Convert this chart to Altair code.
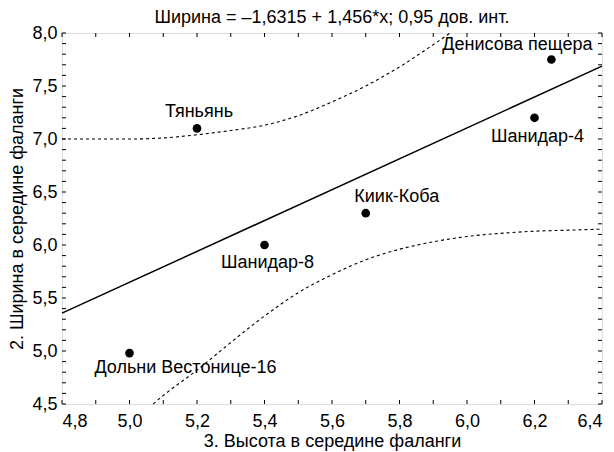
import altair as alt
import pandas as pd

# Data points
names = ["Денисова пещера", "Шанидар-4", "Киик-Коба", "Шанидар-8", "Тяньянь", "Дольни Вестонице-16"]
height_x = [6.25, 6.20, 5.70, 5.40, 5.20, 5.00]
width_y = [7.75, 7.20, 6.30, 6.00, 7.10, 4.98]

# Regression line endpoints (y = -1.6315 + 1.456 x)
line_x = [4.8, 6.4]
line_y = [5.357, 7.687]

# Confidence band
upper_x = [4.8, 4.9, 5.0, 5.1, 5.2, 5.3, 5.4, 5.5, 5.6, 5.7, 5.8, 5.9, 5.95]
upper_y = [7.00, 7.00, 7.00, 7.01, 7.04, 7.08, 7.13, 7.22, 7.35, 7.50, 7.68, 7.89, 8.00]
lower_x = [5.07, 5.1, 5.2, 5.3, 5.4, 5.5, 5.6, 5.7, 5.8, 5.9, 6.0, 6.1, 6.2, 6.3, 6.4]
lower_y = [4.50, 4.58, 4.82, 5.08, 5.33, 5.55, 5.72, 5.86, 5.96, 6.03, 6.08, 6.11, 6.13, 6.14, 6.15]

x_ticks = [4.8, 5.0, 5.2, 5.4, 5.6, 5.8, 6.0, 6.2, 6.4]
y_ticks = [4.5, 5.0, 5.5, 6.0, 6.5, 7.0, 7.5, 8.0]
x_minor = [round(4.8 + 0.1 * i, 2) for i in range(17)]
y_minor = [round(4.5 + 0.1 * i, 2) for i in range(36)]

W, H = 540, 371
FONT = "Liberation Sans"
FS = 18

xs = alt.Scale(domain=[4.8, 6.4], nice=False, zero=False)
ys = alt.Scale(domain=[4.5, 8.0], nice=False, zero=False)
lab = "replace(format(datum.value, '.1f'), '.', ',')"

pts = pd.DataFrame({"name": names, "x": height_x, "y": width_y})
reg = pd.DataFrame({"x": line_x, "y": line_y})
up = pd.DataFrame({"x": upper_x, "y": upper_y})
lo = pd.DataFrame({"x": lower_x, "y": lower_y})

X = alt.X("x:Q", scale=xs, axis=alt.Axis(values=x_ticks, labelExpr=lab, title="3. Высота в середине фаланги",
                                          grid=False, domain=False, ticks=False, labelPadding=8,
                                          titlePadding=2, labelFontSize=FS, titleFontSize=FS,
                                          labelFont=FONT, titleFont=FONT, titleFontWeight="normal",
                                          labelColor="black", titleColor="black"))
Y = alt.Y("y:Q", scale=ys, axis=alt.Axis(values=y_ticks, labelExpr=lab, title="2. Ширина в середине фаланги",
                                          grid=False, domain=False, ticks=False, labelPadding=5,
                                          titlePadding=5, labelFontSize=FS, titleFontSize=FS,
                                          labelFont=FONT, titleFont=FONT, titleFontWeight="normal",
                                          labelColor="black", titleColor="black"))

base_line = alt.Chart(reg).mark_line(color="black", strokeWidth=1.5).encode(x=X, y=Y)
band_up = alt.Chart(up).mark_line(color="black", strokeWidth=1.1, strokeDash=[3, 3], interpolate="monotone").encode(
    x=alt.X("x:Q", scale=xs), y=alt.Y("y:Q", scale=ys))
band_lo = alt.Chart(lo).mark_line(color="black", strokeWidth=1.1, strokeDash=[3, 3], interpolate="monotone").encode(
    x=alt.X("x:Q", scale=xs), y=alt.Y("y:Q", scale=ys))
dots = alt.Chart(pts).mark_circle(color="black", opacity=1, size=75).encode(
    x=alt.X("x:Q", scale=xs), y=alt.Y("y:Q", scale=ys))

offsets = {
    "Денисова пещера": (-34, -15),
    "Шанидар-4": (3, 19),
    "Киик-Коба": (31, -16),
    "Шанидар-8": (3, 18),
    "Тяньянь": (2, -16),
    "Дольни Вестонице-16": (56, 15),
}
texts = []
for n in names:
    dx, dy = offsets[n]
    texts.append(
        alt.Chart(pts).transform_filter(alt.datum.name == n)
        .mark_text(font=FONT, fontSize=FS, color="black", dx=dx, dy=dy, align="center", baseline="middle")
        .encode(x=alt.X("x:Q", scale=xs), y=alt.Y("y:Q", scale=ys), text="name:N")
    )

xt = pd.DataFrame({"x": x_minor})
yt = pd.DataFrame({"y": y_minor})
tick_b = alt.Chart(xt).mark_rule(color="black", strokeWidth=1).encode(
    x=alt.X("x:Q", scale=xs), y=alt.value(H), y2=alt.value(H - 4))
tick_t = alt.Chart(xt).mark_rule(color="black", strokeWidth=1).encode(
    x=alt.X("x:Q", scale=xs), y=alt.value(0), y2=alt.value(4))
tick_l = alt.Chart(yt).mark_rule(color="black", strokeWidth=1).encode(
    y=alt.Y("y:Q", scale=ys), x=alt.value(0), x2=alt.value(4))
tick_r = alt.Chart(yt).mark_rule(color="black", strokeWidth=1).encode(
    y=alt.Y("y:Q", scale=ys), x=alt.value(W), x2=alt.value(W - 4))

chart = alt.layer(base_line, band_up, band_lo, tick_b, tick_t, tick_l, tick_r, dots, *texts).properties(
    width=W, height=H,
    title=alt.Title("Ширина = –1,6315 + 1,456*x; 0,95 дов. инт.", font=FONT, fontSize=FS,
                    fontWeight="normal", color="black", offset=-3),
    autosize=alt.AutoSizeParams(type="none"),
    padding={"left": 54, "top": 25, "right": 4, "bottom": 48},
).configure_view(stroke="black", strokeWidth=1.2).configure(background="white")

chart.save("out.html", embed_options={"renderer": "svg", "actions": False})
